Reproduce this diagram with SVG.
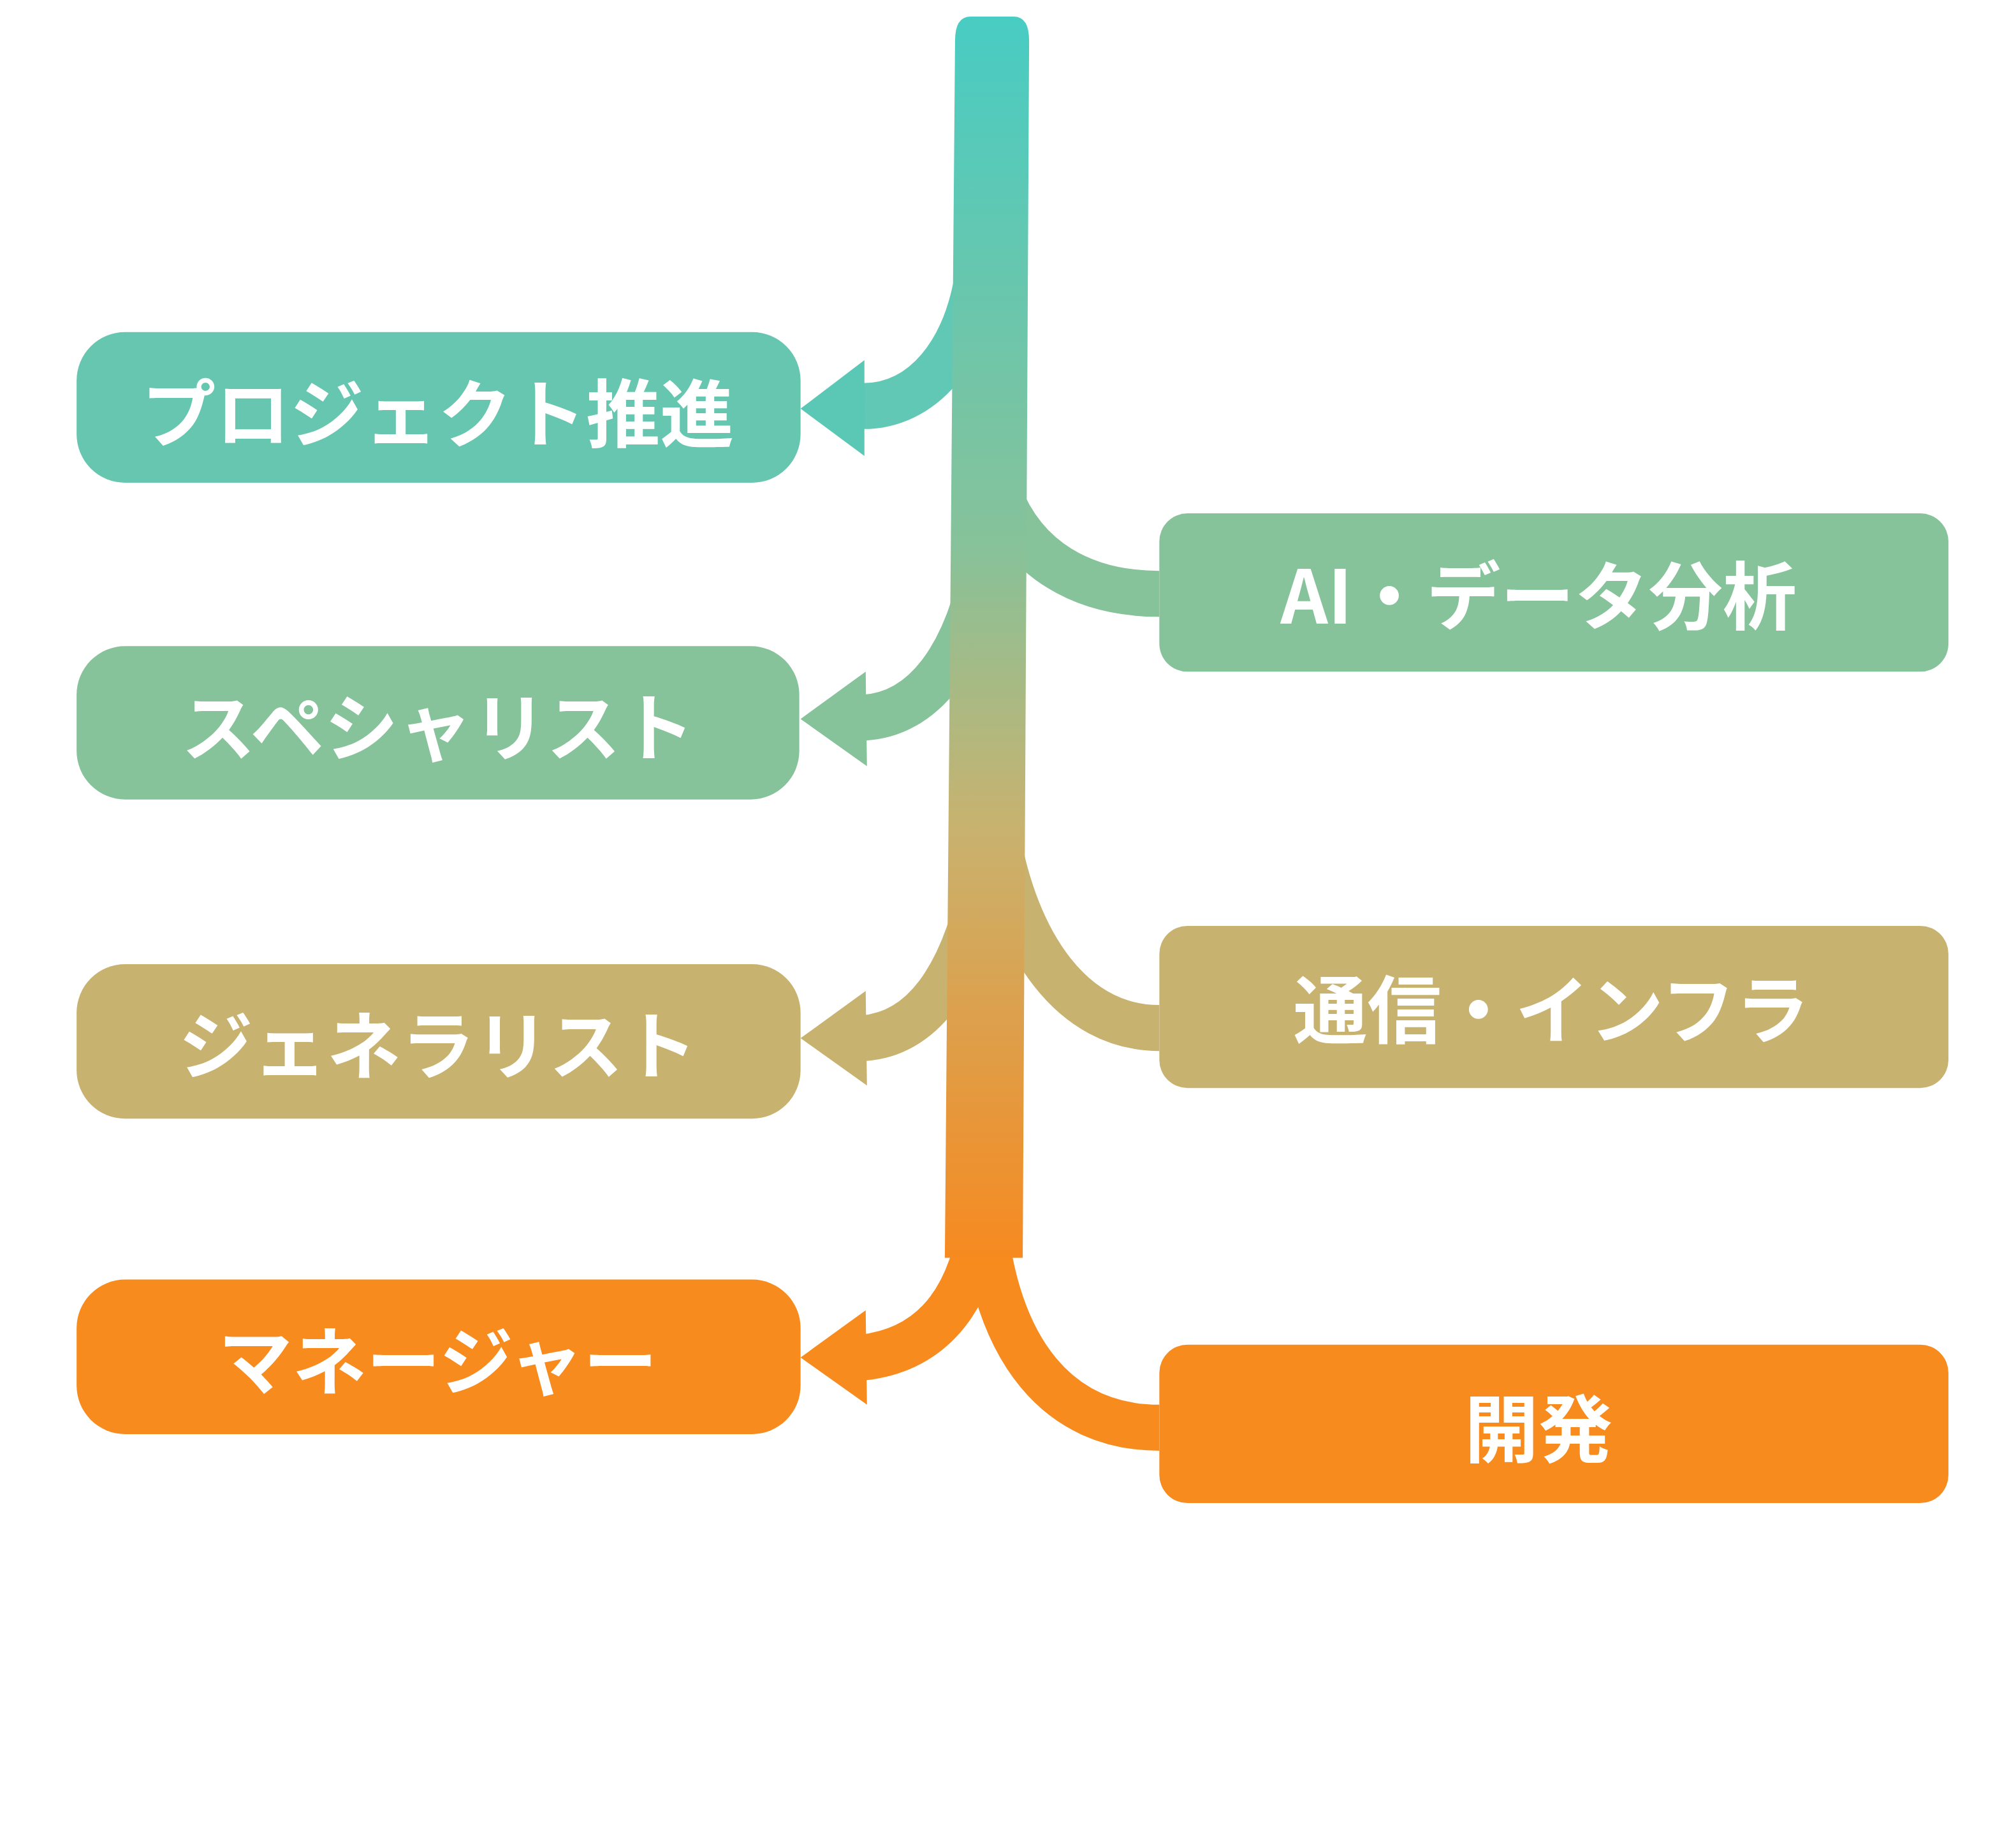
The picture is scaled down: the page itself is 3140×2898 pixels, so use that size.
<svg xmlns="http://www.w3.org/2000/svg" width="3140" height="2898" viewBox="0 0 3140 2898">
<defs>
<linearGradient id="tg" gradientUnits="userSpaceOnUse" x1="0" y1="13" x2="0" y2="990">
<stop offset="0" stop-color="#48CCC3"/><stop offset="0.42" stop-color="#86C29A"/><stop offset="0.65" stop-color="#C8B26F"/><stop offset="1" stop-color="#F7891F"/>
</linearGradient>
<style>
.t{font-family:"Noto Sans CJK JP","Noto Sans",sans-serif;font-weight:bold;fill:#fff;font-size:58px;text-anchor:middle;dominant-baseline:central}
.b{fill:none;stroke-width:36}
</style>
</defs>
<rect width="3140" height="2898" fill="#fff"/>
<g transform="scale(2.0026)">
<g id="connectors">
<path d="M770 140 L768 200 C760 280 720 318 676 318" class="b" stroke="#60C8B5"/>
<polygon points="627,320 677,282 677,357" fill="#5BC8B5"/>
<path d="M780 380 C800 440 850 465 908 465" class="b" stroke="#86C29A"/>
<path d="M775 420 C760 520 720 560 676 562" class="b" stroke="#86C29A"/>
<polygon points="627,563 678,526 679,600" fill="#86C29A"/>
<path d="M780 650 C795 740 840 805 908 805" class="b" stroke="#C8B26F"/>
<path d="M772 680 C755 770 720 810 676 813" class="b" stroke="#C8B26F"/>
<polygon points="627,813 678,776 679,850" fill="#C8B26F"/>
<path d="M770 950 C780 1060 830 1118 908 1118" class="b" stroke="#F78B1E"/>
<path d="M770 950 C760 1030 720 1058 676 1063" class="b" stroke="#F78B1E"/>
<polygon points="627,1063 678,1026 679,1100" fill="#F78B1E"/>
<path d="M748 32 Q748 13 760 13 L794 13 Q806 13 806 32 L801 985 L740 985 Z" fill="url(#tg)"/>
</g>
<g id="n1"><rect x="60" y="260" width="567" height="118" rx="38" fill="#67C6B0"/><text class="t" x="343" y="320">プロジェクト推進</text></g>
<g id="n2"><rect x="60" y="506" width="566" height="120" rx="38" fill="#86C29A"/><text class="t" x="343" y="566">スペシャリスト</text></g>
<g id="n3"><rect x="60" y="755" width="567" height="121" rx="38" fill="#C8B26F"/><text class="t" x="343" y="815">ジェネラリスト</text></g>
<g id="n4"><rect x="60" y="1002" width="567" height="121" rx="38" fill="#F78B1E"/><text class="t" x="343" y="1062">マネージャー</text></g>
<g id="n5"><rect x="908" y="402" width="618" height="124" rx="22" fill="#86C29A"/><text class="t" x="1205" y="463">AI・データ分析</text></g>
<g id="n6"><rect x="908" y="725" width="618" height="127" rx="22" fill="#C8B26F"/><text class="t" x="1215" y="787">通信・インフラ</text></g>
<g id="n7"><rect x="908" y="1053" width="618" height="124" rx="22" fill="#F78B1E"/><text class="t" x="1205" y="1115">開発</text></g>
</g>
</svg>
